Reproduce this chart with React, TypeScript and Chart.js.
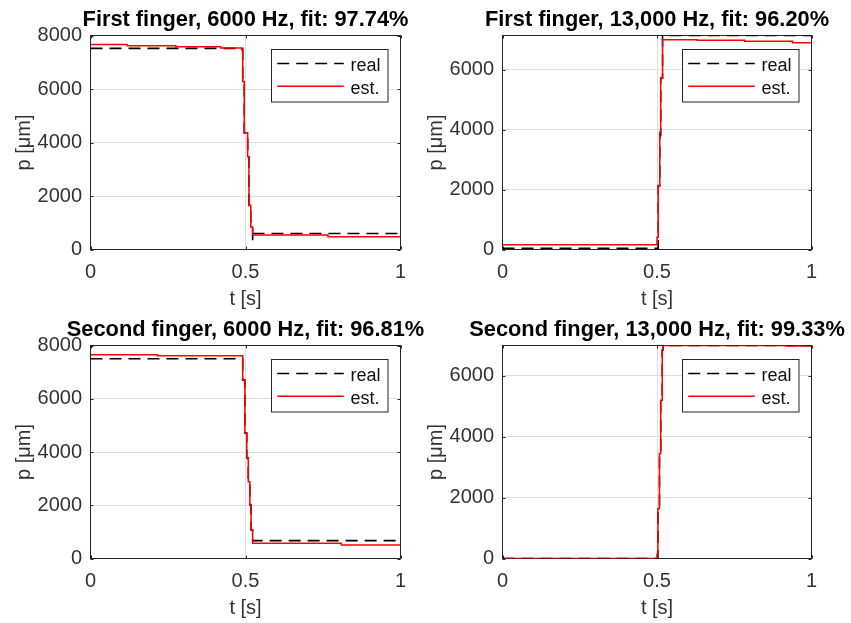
import { useEffect, useRef } from "react";
import { Chart, registerables } from "chart.js";

Chart.register(...registerables);

// ---------- data ----------
const xTicks = [0, 0.5, 1];
const yTicksFull = [0, 2000, 4000, 6000, 8000];
const yTicksPart = [0, 2000, 4000, 6000];
const legendLabels = ["real", "est."];
const xLabel = "t [s]";
const yLabel = "p [μm]";

const titles = [
  "First finger, 6000 Hz, fit: 97.74%",
  "First finger, 13,000 Hz, fit: 96.20%",
  "Second finger, 6000 Hz, fit: 96.81%",
  "Second finger, 13,000 Hz, fit: 99.33%",
];
const yMaxes = [8000, 7140, 8000, 7000];

// First finger, 6000 Hz
const tEst1 = [0, 0.118, 0.275, 0.42, 0.488, 0.491, 0.496, 0.507, 0.511, 0.517, 0.523, 0.766, 1];
const pEst1 = [7660, 7620, 7580, 7530, 7470, 6280, 4360, 3470, 1650, 840, 540, 480, 480];
const tReal1 = [0, 0.491, 0.496, 0.507, 0.511, 0.517, 0.523, 0.527, 1];
const pReal1 = [7520, 6280, 4360, 3470, 1650, 840, 340, 600, 600];

// First finger, 13,000 Hz
const tEst2 = [0, 0.5, 0.504, 0.509, 0.512, 0.518, 0.63, 0.784, 0.939, 1];
const pEst2 = [160, 410, 2130, 3910, 5720, 7000, 6980, 6945, 6900, 6900];
const tReal2 = [0, 0.504, 0.509, 0.512, 0.518, 1];
const pReal2 = [40, 2130, 3800, 5720, 7140, 7140];

// Second finger, 6000 Hz
const tEst3 = [0, 0.216, 0.491, 0.498, 0.504, 0.509, 0.514, 0.518, 0.523, 0.809, 1];
const pEst3 = [7655, 7617, 6700, 4710, 3775, 2885, 2010, 1070, 570, 507, 507];
const tReal3 = [0, 0.491, 0.498, 0.504, 0.509, 0.514, 0.518, 0.523, 1];
const pReal3 = [7500, 6700, 4710, 3775, 2885, 2010, 1070, 670, 670];

// Second finger, 13,000 Hz
const tEst4 = [0, 0.5, 0.503, 0.508, 0.512, 0.517, 0.52, 0.92, 1];
const pEst4 = [0, 150, 1640, 3450, 5200, 6850, 7000, 6985, 6985];
const tReal4 = [0, 0.503, 0.508, 0.512, 0.517, 0.52, 1];
const pReal4 = [0, 1640, 3450, 5200, 6850, 7000, 7000];

// ---------- style ----------
const FONT = "'Liberation Sans', Arial, Helvetica, sans-serif";
const AXIS = "#262626";
const TEXT = "#333333";
const GRID = "#dfdfdf";
const RED = "#ff0000";

type Geo = { cLeft: number; cTop: number; cW: number; cH: number; pL: number; pT: number; pR: number; pB: number };
type PanelCfg = {
  title: string;
  tEst: number[]; pEst: number[]; tReal: number[]; pReal: number[];
  yMax: number; yTicks: number[]; geo: Geo;
};

function pts(t: number[], p: number[]) {
  return t.map((x, i) => ({ x, y: p[i] }));
}

function Panel({ cfg }: { cfg: PanelCfg }) {
  const ref = useRef<HTMLCanvasElement>(null);
  useEffect(() => {
    const canvas = ref.current as HTMLCanvasElement;
    const g = cfg.geo;
    const xtPad = g.cTop + g.cH - (g.pB + 50) - 12;
    const ytPad = g.pL - 66.5 - g.cLeft - 12;

    const framePlugin = {
      id: "mlFrame",
      beforeDatasetsDraw(chart: any) {
        const { ctx, chartArea: a, scales } = chart;
        ctx.save();
        ctx.strokeStyle = AXIS;
        ctx.lineWidth = 1;
        const L = 3;
        ctx.beginPath();
        for (const tk of scales.x.ticks) {
          const px = Math.round(scales.x.getPixelForValue(tk.value)) + 0.5;
          ctx.moveTo(px, a.bottom);
          ctx.lineTo(px, a.bottom - L);
          ctx.moveTo(px, a.top);
          ctx.lineTo(px, a.top + L);
        }
        for (const tk of scales.y.ticks) {
          const py = Math.round(scales.y.getPixelForValue(tk.value)) + 0.5;
          ctx.moveTo(a.left, py);
          ctx.lineTo(a.left + L, py);
          ctx.moveTo(a.right, py);
          ctx.lineTo(a.right - L, py);
        }
        ctx.stroke();
        ctx.strokeRect(a.left, a.top, a.right - a.left, a.bottom - a.top);
        ctx.restore();
      },
    };

    const titlePlugin = {
      id: "mlTitle",
      afterDraw(chart: any) {
        const { ctx, chartArea: a } = chart;
        ctx.save();
        ctx.fillStyle = "#000000";
        ctx.font = `bold 21.8px ${FONT}`;
        ctx.textAlign = "center";
        ctx.textBaseline = "middle";
        ctx.fillText(cfg.title, (a.left + a.right) / 2, a.top - 15.5);
        ctx.restore();
      },
    };

    const legendPlugin = {
      id: "mlLegend",
      afterDatasetsDraw(chart: any) {
        const { ctx, chartArea: a } = chart;
        const w = 116.5;
        const h = 52.5;
        const bx = Math.round(a.right - 13.5 - w) + 0.5;
        const by = Math.round(a.top + 13.5) + 0.5;
        ctx.save();
        ctx.fillStyle = "#ffffff";
        ctx.fillRect(bx, by, w, h);
        ctx.strokeStyle = AXIS;
        ctx.lineWidth = 1;
        ctx.setLineDash([]);
        ctx.strokeRect(bx, by, w, h);
        const ds = chart.data.datasets;
        const items = [ds[1], ds[0]];
        items.forEach((d: any, i: number) => {
          const ly = by + 14 + i * 22.7;
          ctx.beginPath();
          ctx.setLineDash(d.borderDash || []);
          ctx.strokeStyle = d.borderColor;
          ctx.lineWidth = d.borderWidth;
          ctx.moveTo(bx + 5.7, ly);
          ctx.lineTo(bx + 72.3, ly);
          ctx.stroke();
          ctx.setLineDash([]);
          ctx.fillStyle = "#111111";
          ctx.font = `18px ${FONT}`;
          ctx.textBaseline = "middle";
          ctx.textAlign = "left";
          ctx.fillText(d.label, bx + 79, ly + 2.5);
        });
        ctx.restore();
      },
    };

    const chart = new Chart(canvas, {
      type: "line",
      data: {
        datasets: [
          {
            label: legendLabels[1],
            data: pts(cfg.tEst, cfg.pEst),
            borderColor: RED,
            borderWidth: 1.5,
            pointRadius: 0,
            stepped: true,
            fill: false,
            order: 0,
          },
          {
            label: legendLabels[0],
            data: pts(cfg.tReal, cfg.pReal),
            borderColor: "#000000",
            borderWidth: 1.6,
            borderDash: [12, 7],
            pointRadius: 0,
            stepped: true,
            fill: false,
            order: 1,
          },
        ],
      },
      options: {
        responsive: false,
        animation: false,
        devicePixelRatio: 1,
        events: [],
        layout: { padding: { left: 0, top: g.pT - g.cTop, bottom: 0, right: g.cLeft + g.cW - g.pR } },
        plugins: {
          legend: { display: false },
          tooltip: { enabled: false },
          title: { display: false },
        },
        scales: {
          x: {
            type: "linear",
            min: 0,
            max: 1,
            afterBuildTicks: (s: any) => {
              s.ticks = xTicks.map((v) => ({ value: v }));
            },
            afterFit: (s: any) => {
              s.height = g.cTop + g.cH - g.pB;
            },
            grid: { color: GRID, drawTicks: false, lineWidth: 1 },
            border: { display: false },
            ticks: {
              color: TEXT,
              font: { family: FONT, size: 20 },
              padding: 10.5,
              maxRotation: 0,
              autoSkip: false,
              callback: (v: any) => String(v),
            },
            title: {
              display: true,
              text: xLabel,
              color: TEXT,
              font: { family: FONT, size: 20, lineHeight: 1.2 },
              padding: { top: 0, bottom: xtPad },
            },
          },
          y: {
            type: "linear",
            min: 0,
            max: cfg.yMax,
            afterBuildTicks: (s: any) => {
              s.ticks = cfg.yTicks.map((v) => ({ value: v }));
            },
            afterFit: (s: any) => {
              s.width = g.pL - g.cLeft;
            },
            grid: { color: GRID, drawTicks: false, lineWidth: 1 },
            border: { display: false },
            ticks: {
              color: TEXT,
              font: { family: FONT, size: 20 },
              padding: 8.5,
              autoSkip: false,
              callback: (v: any) => String(v),
            },
            title: {
              display: true,
              text: yLabel,
              color: TEXT,
              font: { family: FONT, size: 20, lineHeight: 1.2 },
              padding: { top: ytPad, bottom: 0 },
            },
          },
        },
      } as any,
      plugins: [framePlugin, legendPlugin, titlePlugin],
    });
    return () => chart.destroy();
  }, [cfg]);
  const g = cfg.geo;
  return (
    <canvas
      ref={ref}
      width={g.cW}
      height={g.cH}
      style={{ position: "absolute", left: g.cLeft, top: g.cTop, width: g.cW, height: g.cH }}
    />
  );
}

const leftCol = { cLeft: 0, cW: 491, pL: 90.5, pR: 400.5 };
const rightCol = { cLeft: 415, cW: 484, pL: 502.5, pR: 811.5 };
const topRow = { cTop: 0, cH: 320, pT: 35.5, pB: 249.5 };
const botRow = { cTop: 311, cH: 312, pT: 345.5, pB: 558.5 };

const panels: PanelCfg[] = [
  { title: titles[0], tEst: tEst1, pEst: pEst1, tReal: tReal1, pReal: pReal1, yMax: yMaxes[0], yTicks: yTicksFull, geo: { ...leftCol, ...topRow } },
  { title: titles[1], tEst: tEst2, pEst: pEst2, tReal: tReal2, pReal: pReal2, yMax: yMaxes[1], yTicks: yTicksPart, geo: { ...rightCol, ...topRow } },
  { title: titles[2], tEst: tEst3, pEst: pEst3, tReal: tReal3, pReal: pReal3, yMax: yMaxes[2], yTicks: yTicksFull, geo: { ...leftCol, ...botRow } },
  { title: titles[3], tEst: tEst4, pEst: pEst4, tReal: tReal4, pReal: pReal4, yMax: yMaxes[3], yTicks: yTicksPart, geo: { ...rightCol, ...botRow } },
];

export default function App() {
  return (
    <div
      style={{
        position: "fixed",
        left: 0,
        top: 0,
        width: 851,
        height: 623,
        overflow: "hidden",
        background: "#ffffff",
      }}
    >
      {panels.map((p, i) => (
        <Panel key={i} cfg={p} />
      ))}
    </div>
  );
}
